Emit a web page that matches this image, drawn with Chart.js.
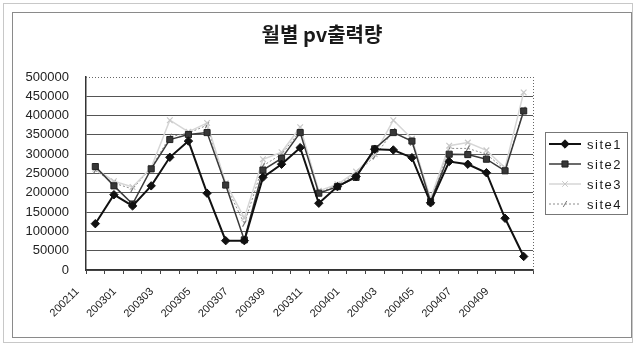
<!DOCTYPE html>
<html>
<head>
<meta charset="utf-8">
<script src="https://cdn.jsdelivr.net/npm/chart.js@4/dist/chart.umd.min.js"></script>
<style>
  html, body { margin: 0; padding: 0; background: #fff; }
  #wrap { width: 634px; height: 344px; }
</style>
</head>
<body>
<div id="wrap"><canvas id="c" width="634" height="344"></canvas></div>
<script>
// Monthly PV output per site
const months = ['200211','200212','200301','200302','200303','200304','200305','200306',
                '200307','200308','200309','200310','200311','200312','200401','200402',
                '200403','200404','200405','200406','200407','200408','200409','200410'];
const site1 = [120000,195000,166000,218000,292000,334000,199000,76000,76000,240000,274000,317000,
               173000,216000,242000,313000,311000,291000,174000,281000,274000,252000,134000,35000];
const site2 = [268000,218000,171000,262000,338000,351000,356000,220000,78000,259000,289000,356000,
               199000,216000,240000,314000,356000,334000,177000,300000,299000,287000,257000,412000];
const site3 = [262000,230000,215000,265000,388000,358000,381000,225000,135000,287000,305000,370000,
               205000,222000,255000,300000,388000,340000,185000,322000,330000,310000,265000,460000];
const site4 = [258000,225000,210000,265000,345000,355000,375000,220000,120000,270000,300000,360000,
               200000,220000,250000,294000,360000,330000,180000,315000,315000,300000,260000,415000];
const yTicks = [0,50000,100000,150000,200000,250000,300000,350000,400000,450000,500000];
const chartTitle = '월별 pv출력량';

const FONT = '"Liberation Sans", Arial, sans-serif';

// white page with the double frame around the chart
const framePlugin = {
  id: 'frame',
  beforeDraw(chart) {
    const ctx = chart.ctx;
    ctx.save();
    ctx.fillStyle = '#fff';
    ctx.fillRect(0, 0, chart.width, chart.height);
    ctx.lineWidth = 1;
    ctx.strokeStyle = '#c8c8c8';
    ctx.strokeRect(3.5, 3.5, chart.width - 5, chart.height - 5);
    ctx.strokeStyle = '#8a8a8a';
    ctx.strokeRect(12.5, 12.5, chart.width - 15, chart.height - 19);
    ctx.restore();
  }
};

// title, dotted plot border (top/right)
const decorPlugin = {
  id: 'decor',
  beforeDatasetsDraw(chart) {
    const { ctx, chartArea: a } = chart;
    ctx.save();
    ctx.strokeStyle = '#666';
    ctx.lineWidth = 1;
    ctx.setLineDash([1, 2]);
    ctx.beginPath();
    ctx.moveTo(a.left, Math.round(a.top) + 0.5);
    ctx.lineTo(a.right, Math.round(a.top) + 0.5);
    ctx.moveTo(Math.round(a.right) + 0.5, a.top);
    ctx.lineTo(Math.round(a.right) + 0.5, a.bottom);
    ctx.stroke();
    ctx.restore();
  },
  afterDraw(chart) {
    const ctx = chart.ctx;
    ctx.save();
    ctx.fillStyle = '#1a1a1a';
    ctx.font = 'bold 20px "Noto Sans CJK KR", sans-serif';
    ctx.textAlign = 'center';
    ctx.textBaseline = 'middle';
    ctx.fillText(chartTitle, 322, 34);
    ctx.restore();
  }
};

// boxed legend on the right: line sample + marker + name
const legendPlugin = {
  id: 'boxLegend',
  afterDraw(chart) {
    const ctx = chart.ctx;
    const bx = 545.5, by = 132.5, bw = 82, bh = 82;
    ctx.save();
    ctx.strokeStyle = '#777';
    ctx.lineWidth = 1;
    ctx.strokeRect(bx, by, bw, bh);
    chart.data.datasets.forEach((ds, i) => {
      const y = 144 + 20 * i;
      ctx.save();
      ctx.strokeStyle = ds.borderColor;
      ctx.lineWidth = ds.borderWidth;
      ctx.setLineDash(ds.borderDash || []);
      ctx.beginPath();
      ctx.moveTo(549, y);
      ctx.lineTo(581, y);
      ctx.stroke();
      ctx.restore();
      ctx.save();
      ctx.fillStyle = ds.pointBackgroundColor;
      ctx.strokeStyle = ds.pointBorderColor;
      Chart.helpers.drawPoint(ctx, {
        pointStyle: ds.pointStyle,
        radius: ds.pointRadius,
        rotation: ds.pointRotation || 0,
        borderWidth: ds.pointBorderWidth
      }, 565, y);
      ctx.restore();
      ctx.fillStyle = '#1a1a1a';
      ctx.font = '13px ' + FONT;
      ctx.letterSpacing = '1.5px';
      ctx.textAlign = 'left';
      ctx.textBaseline = 'middle';
      ctx.fillText(ds.label, 587, y + 1);
    });
    ctx.restore();
  }
};

new Chart(document.getElementById('c'), {
  type: 'line',
  data: {
    labels: months,
    datasets: [
      {
        label: 'site1', data: site1,
        borderColor: '#111', borderWidth: 2,
        pointStyle: 'rectRot', pointRadius: 4.2,
        pointBackgroundColor: '#111', pointBorderColor: '#111', pointBorderWidth: 1,
        tension: 0
      },
      {
        label: 'site2', data: site2,
        borderColor: '#3a3a3a', borderWidth: 1.5,
        pointStyle: 'rect', pointRadius: 4.3,
        pointBackgroundColor: '#383838', pointBorderColor: '#222', pointBorderWidth: 1,
        tension: 0
      },
      {
        label: 'site3', data: site3,
        borderColor: '#d6d6d6', borderWidth: 1.5,
        pointStyle: 'crossRot', pointRadius: 4,
        pointBackgroundColor: '#ccc', pointBorderColor: '#c8c8c8', pointBorderWidth: 1.2,
        tension: 0
      },
      {
        label: 'site4', data: site4,
        borderColor: '#8c8c8c', borderWidth: 1, borderDash: [2, 2],
        pointStyle: 'line', pointRadius: 3.5, pointRotation: -60,
        pointBackgroundColor: '#777', pointBorderColor: '#777', pointBorderWidth: 1.2,
        tension: 0
      }
    ]
  },
  options: {
    responsive: false,
    animation: false,
    devicePixelRatio: 1,
    layout: { padding: { top: 77, right: 101, left: 0, bottom: 0 } },
    plugins: {
      legend: { display: false },
      title: { display: false },
      tooltip: { enabled: false }
    },
    scales: {
      x: {
        offset: true,
        afterFit(s) { s.height = 74; },
        grid: { display: true, drawOnChartArea: false, drawTicks: true, tickLength: 4, offset: true, color: '#444' },
        border: { color: '#333', width: 1.5 },
        ticks: {
          autoSkip: false, minRotation: 45, maxRotation: 45,
          labelOffset: -18, padding: 11,
          color: '#222', font: { family: FONT, size: 11 },
          callback(v, i) { return i % 2 === 0 ? months[i] : ''; }
        }
      },
      y: {
        min: 0, max: 500000,
        afterFit(s) { s.width = 86; },
        afterBuildTicks(s) { s.ticks = yTicks.map(v => ({ value: v })); },
        grid: {
          drawTicks: false,
          color(c) { return c.tick && c.tick.value === 500000 ? 'rgba(0,0,0,0)' : '#555'; },
          lineWidth: 1
        },
        border: { color: '#333', width: 1.5 },
        ticks: {
          padding: 17,
          color: '#222', font: { family: FONT, size: 13 },
          callback(v) { return String(v); }
        }
      }
    }
  },
  plugins: [framePlugin, decorPlugin, legendPlugin]
});
</script>
</body>
</html>
